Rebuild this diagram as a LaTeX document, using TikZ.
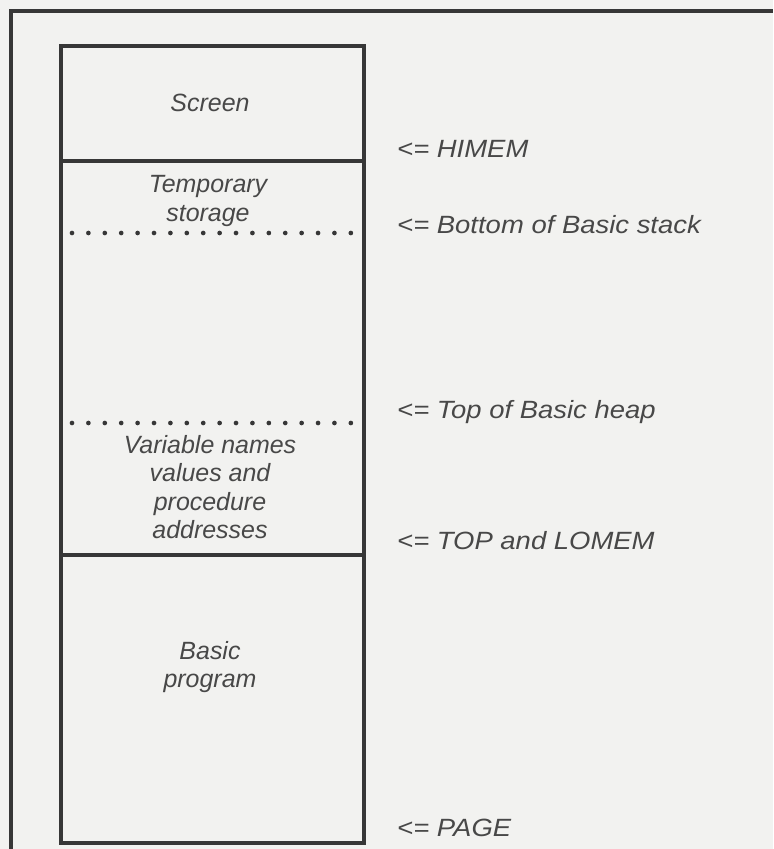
\documentclass[tikz,border=0pt]{standalone}
\usepackage{fontspec}
\setmainfont{Liberation Sans}
\newfontfamily\pointerfont{Liberation Sans}[FakeStretch=1.1]

\definecolor{paper}{RGB}{242,242,240}
\definecolor{ink}{RGB}{55,55,55}
\definecolor{print}{RGB}{72,72,72}

\tikzset{
  region/.style={font=\fontsize{21.3}{24.4}\selectfont\itshape, text=print, align=center, inner sep=0pt},
  pointer/.style={font=\pointerfont\fontsize{21.3}{24.4}\selectfont\itshape, text=print, anchor=base west, inner sep=0pt},
  wall/.style={draw=ink, line width=2.6pt},
  dotrow/.style={draw=ink, line width=4pt, line cap=round, dash pattern=on 0pt off 14pt}
}

\begin{document}
\begin{tikzpicture}[x=0.03cm, y=-0.03cm]
  \fill[paper] (0,0) rectangle (773,849);
  \useasboundingbox (0,0) rectangle (773,849);
  % --- page frame, runs off the edges ---
  \draw[wall] (11,849) -- (11,11) -- (773,11);

  % --- memory map ---
  \coordinate (NW) at (61,46);
  \coordinate (SE) at (364,843);
  \draw[wall] (NW) rectangle (SE);
  \draw[wall] (61,161) -- (364,161);   % HIMEM
  \draw[wall] (61,555) -- (364,555);   % TOP / LOMEM
  \draw[dotrow] (72,233) -- (353,233); % stack bottom
  \draw[dotrow] (72,423) -- (353,423); % heap top

  \node[region] (screen) at (210,103) {Screen};
  \node[region] (temp)   at (208,201) {Temporary\\storage};
  \node[region] (vars)   at (210,487) {Variable names\\values and\\procedure\\addresses};
  \node[region] (prog)   at (210,667) {Basic\\program};

  % --- pointers ---
  \node[pointer] (himem) at (397,158) {<= HIMEM};
  \node[pointer] (stack) at (397,233) {<= Bottom of Basic stack};
  \node[pointer] (heap)  at (397,418) {<= Top of Basic heap};
  \node[pointer] (lomem) at (397,549) {<= TOP and LOMEM};
  \node[pointer] (page)  at (397,836) {<= PAGE};
\end{tikzpicture}
\end{document}
